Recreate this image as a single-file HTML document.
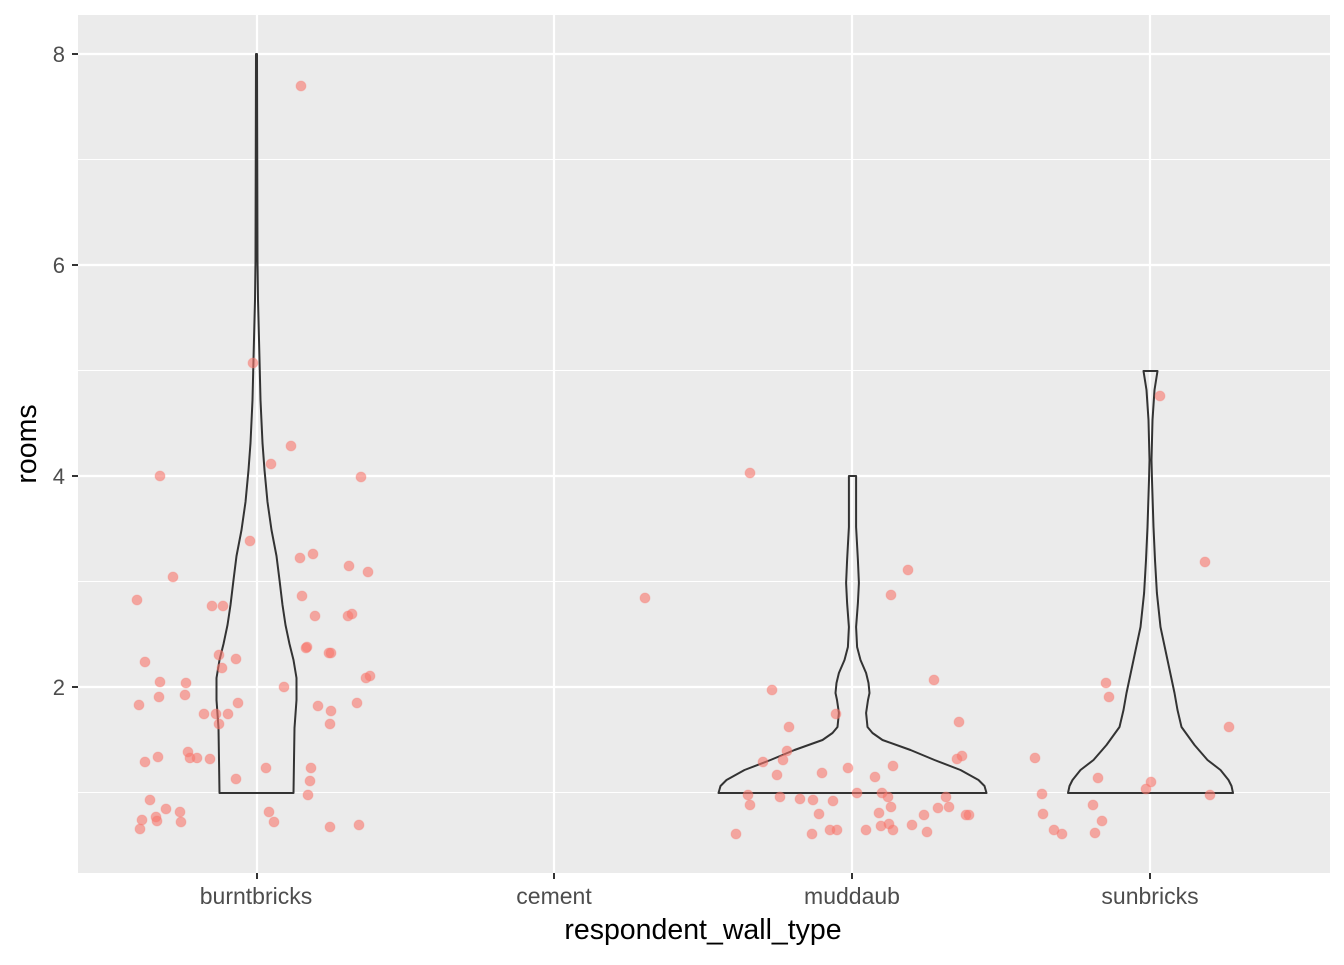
<!DOCTYPE html>
<html><head><style>html,body{margin:0;padding:0;background:#fff}</style></head><body>
<svg width="1344" height="960" xmlns="http://www.w3.org/2000/svg" font-family="Liberation Sans, sans-serif">
<rect width="1344" height="960" fill="#fff"/>
<rect x="78" y="15" width="1252" height="858" fill="#ebebeb"/>
<g stroke="#fff" stroke-width="1.1">
<line x1="78" x2="1330" y1="792.5" y2="792.5"/><line x1="78" x2="1330" y1="581.5" y2="581.5"/><line x1="78" x2="1330" y1="370.5" y2="370.5"/><line x1="78" x2="1330" y1="159.5" y2="159.5"/>
</g>
<g stroke="#fff" stroke-width="2.2">
<line x1="78" x2="1330" y1="687" y2="687"/><line x1="78" x2="1330" y1="476" y2="476"/><line x1="78" x2="1330" y1="265" y2="265"/><line x1="78" x2="1330" y1="54" y2="54"/>
<line y1="15" y2="873" x1="257" x2="257"/><line y1="15" y2="873" x1="554" x2="554"/><line y1="15" y2="873" x1="852" x2="852"/><line y1="15" y2="873" x1="1150" x2="1150"/>
</g>
<g fill="none" stroke="#333" stroke-width="2" stroke-linejoin="round">
<polygon points="219.5,793 219,760 218.5,728 216.5,700 216.5,678 219.5,660 223.5,644 227.5,625 230.5,605 233.5,580 236.5,556 241.5,530 245.5,502 248.5,470 250.5,443 252.5,400 253.5,359 255,300 255.5,261 256,54 257,54 257.5,261 258,300 259.5,359 260.5,400 262.5,443 264.5,470 267.5,502 271.5,530 276.5,556 279.5,580 282.5,605 285.5,625 289.5,644 293.5,660 296.5,678 296.5,700 294.5,728 294,760 293.5,793"/>
<polygon points="718.5,793 720.5,786 726.5,780 744.5,770 770.5,760 794.5,750 822.5,740 832.5,733 837.5,727 838.9,713 837,700 835.5,693 836.5,683 838.9,673 844.5,660 847.9,647 848.9,627 847.1,603 846.1,583 847.1,560 848.9,527 848.9,476 856.1,476 856.1,527 857.9,560 858.9,583 857.9,603 856.1,627 857.1,647 860.5,660 866.1,673 868.5,683 869.5,693 868,700 866.1,713 867.5,727 872.5,733 882.5,740 910.5,750 934.5,760 960.5,770 978.5,780 984.5,786 986.5,793"/>
<polygon points="1068,793 1069.5,786 1072.5,780 1080.5,770 1093.5,760 1106.5,745 1119.5,727 1123.5,710 1126.5,693 1133.5,660 1140.5,627 1144.1,593 1146,560 1147.5,527 1149,480 1149.5,460 1148.5,420 1146.5,390 1143.5,371 1157.5,371 1154.5,390 1152.5,420 1151.5,460 1152,480 1153.5,527 1155,560 1156.9,593 1160.5,627 1167.5,660 1174.5,693 1177.5,710 1181.5,727 1194.5,745 1207.5,760 1220.5,770 1228.5,780 1231.5,786 1233,793"/>
</g>
<g fill="#f8766d" fill-opacity="0.6" stroke="#f8766d" stroke-opacity="0.3">
<circle cx="137" cy="600" r="5"/><circle cx="145" cy="662" r="5"/><circle cx="160" cy="682" r="5"/><circle cx="159" cy="697" r="5"/><circle cx="186" cy="683" r="5"/><circle cx="185" cy="695" r="5"/><circle cx="139" cy="705" r="5"/><circle cx="204" cy="714" r="5"/><circle cx="216" cy="714" r="5"/><circle cx="228" cy="714" r="5"/><circle cx="219" cy="724" r="5"/><circle cx="238" cy="703" r="5"/><circle cx="212" cy="606" r="5"/><circle cx="223" cy="606" r="5"/><circle cx="219" cy="655" r="5"/><circle cx="222" cy="668" r="5"/><circle cx="236" cy="659" r="5"/><circle cx="160" cy="476" r="5"/><circle cx="173" cy="577" r="5"/><circle cx="145" cy="762" r="5"/><circle cx="158" cy="757" r="5"/><circle cx="188" cy="752" r="5"/><circle cx="190" cy="758" r="5"/><circle cx="197" cy="758" r="5"/><circle cx="210" cy="759" r="5"/><circle cx="236" cy="779" r="5"/><circle cx="266" cy="768" r="5"/><circle cx="284" cy="687" r="5"/><circle cx="300" cy="558" r="5"/><circle cx="313" cy="554" r="5"/><circle cx="302" cy="596" r="5"/><circle cx="315" cy="616" r="5"/><circle cx="307" cy="647" r="5"/><circle cx="306" cy="648" r="5"/><circle cx="329" cy="653" r="5"/><circle cx="331" cy="653" r="5"/><circle cx="318" cy="706" r="5"/><circle cx="331" cy="711" r="5"/><circle cx="330" cy="724" r="5"/><circle cx="349" cy="566" r="5"/><circle cx="368" cy="572" r="5"/><circle cx="348" cy="616" r="5"/><circle cx="352" cy="614" r="5"/><circle cx="361" cy="477" r="5"/><circle cx="370" cy="676" r="5"/><circle cx="366" cy="678" r="5"/><circle cx="357" cy="703" r="5"/><circle cx="311" cy="768" r="5"/><circle cx="310" cy="781" r="5"/><circle cx="308" cy="795" r="5"/><circle cx="269" cy="812" r="5"/><circle cx="274" cy="822" r="5"/><circle cx="330" cy="827" r="5"/><circle cx="359" cy="825" r="5"/><circle cx="150" cy="800" r="5"/><circle cx="166" cy="809" r="5"/><circle cx="180" cy="812" r="5"/><circle cx="181" cy="822" r="5"/><circle cx="156" cy="817" r="5"/><circle cx="157" cy="821" r="5"/><circle cx="142" cy="820" r="5"/><circle cx="140" cy="829" r="5"/><circle cx="253" cy="363" r="5"/><circle cx="250" cy="541" r="5"/><circle cx="271" cy="464" r="5"/><circle cx="291" cy="446" r="5"/><circle cx="301" cy="86" r="5"/>
<circle cx="645" cy="598" r="5"/>
<circle cx="750" cy="473" r="5"/><circle cx="772" cy="690" r="5"/><circle cx="763" cy="762" r="5"/><circle cx="789" cy="727" r="5"/><circle cx="787" cy="751" r="5"/><circle cx="783" cy="760" r="5"/><circle cx="777" cy="775" r="5"/><circle cx="748" cy="795" r="5"/><circle cx="750" cy="805" r="5"/><circle cx="780" cy="797" r="5"/><circle cx="800" cy="799" r="5"/><circle cx="813" cy="800" r="5"/><circle cx="833" cy="801" r="5"/><circle cx="822" cy="773" r="5"/><circle cx="848" cy="768" r="5"/><circle cx="857" cy="793" r="5"/><circle cx="875" cy="777" r="5"/><circle cx="836" cy="714" r="5"/><circle cx="908" cy="570" r="5"/><circle cx="891" cy="595" r="5"/><circle cx="934" cy="680" r="5"/><circle cx="959" cy="722" r="5"/><circle cx="962" cy="756" r="5"/><circle cx="957" cy="759" r="5"/><circle cx="893" cy="766" r="5"/><circle cx="882" cy="793" r="5"/><circle cx="888" cy="797" r="5"/><circle cx="891" cy="807" r="5"/><circle cx="879" cy="813" r="5"/><circle cx="819" cy="814" r="5"/><circle cx="736" cy="834" r="5"/><circle cx="812" cy="834" r="5"/><circle cx="830" cy="830" r="5"/><circle cx="837" cy="830" r="5"/><circle cx="866" cy="830" r="5"/><circle cx="881" cy="826" r="5"/><circle cx="889" cy="824" r="5"/><circle cx="893" cy="830" r="5"/><circle cx="912" cy="825" r="5"/><circle cx="924" cy="815" r="5"/><circle cx="927" cy="832" r="5"/><circle cx="938" cy="808" r="5"/><circle cx="949" cy="807" r="5"/><circle cx="946" cy="797" r="5"/><circle cx="966" cy="815" r="5"/><circle cx="969" cy="815" r="5"/>
<circle cx="1160" cy="396" r="5"/><circle cx="1205" cy="562" r="5"/><circle cx="1229" cy="727" r="5"/><circle cx="1106" cy="683" r="5"/><circle cx="1109" cy="697" r="5"/><circle cx="1098" cy="778" r="5"/><circle cx="1151" cy="782" r="5"/><circle cx="1146" cy="789" r="5"/><circle cx="1210" cy="795" r="5"/><circle cx="1035" cy="758" r="5"/><circle cx="1042" cy="794" r="5"/><circle cx="1043" cy="814" r="5"/><circle cx="1093" cy="805" r="5"/><circle cx="1102" cy="821" r="5"/><circle cx="1054" cy="830" r="5"/><circle cx="1062" cy="834" r="5"/><circle cx="1095" cy="833" r="5"/>
</g>
<g stroke="#333" stroke-width="2">
<line x1="72" x2="78" y1="687" y2="687"/><line x1="72" x2="78" y1="476" y2="476"/><line x1="72" x2="78" y1="265" y2="265"/><line x1="72" x2="78" y1="54" y2="54"/>
<line y1="873" y2="879" x1="257" x2="257"/><line y1="873" y2="879" x1="554" x2="554"/><line y1="873" y2="879" x1="852" x2="852"/><line y1="873" y2="879" x1="1150" x2="1150"/>
</g>
<g fill="#4d4d4d" font-size="22" text-anchor="end">
<text x="65" y="695">2</text><text x="65" y="484">4</text><text x="65" y="273">6</text><text x="65" y="62">8</text>
</g>
<g fill="#4d4d4d" font-size="23" text-anchor="middle">
<text x="256" y="904">burntbricks</text><text x="554" y="904">cement</text><text x="852" y="904">muddaub</text><text x="1150" y="904">sunbricks</text>
</g>
<text x="703" y="939" font-size="28.5" text-anchor="middle" fill="#000">respondent_wall_type</text>
<text transform="translate(36,444) rotate(-90)" font-size="28.5" text-anchor="middle" fill="#000">rooms</text>
</svg>
</body></html>
